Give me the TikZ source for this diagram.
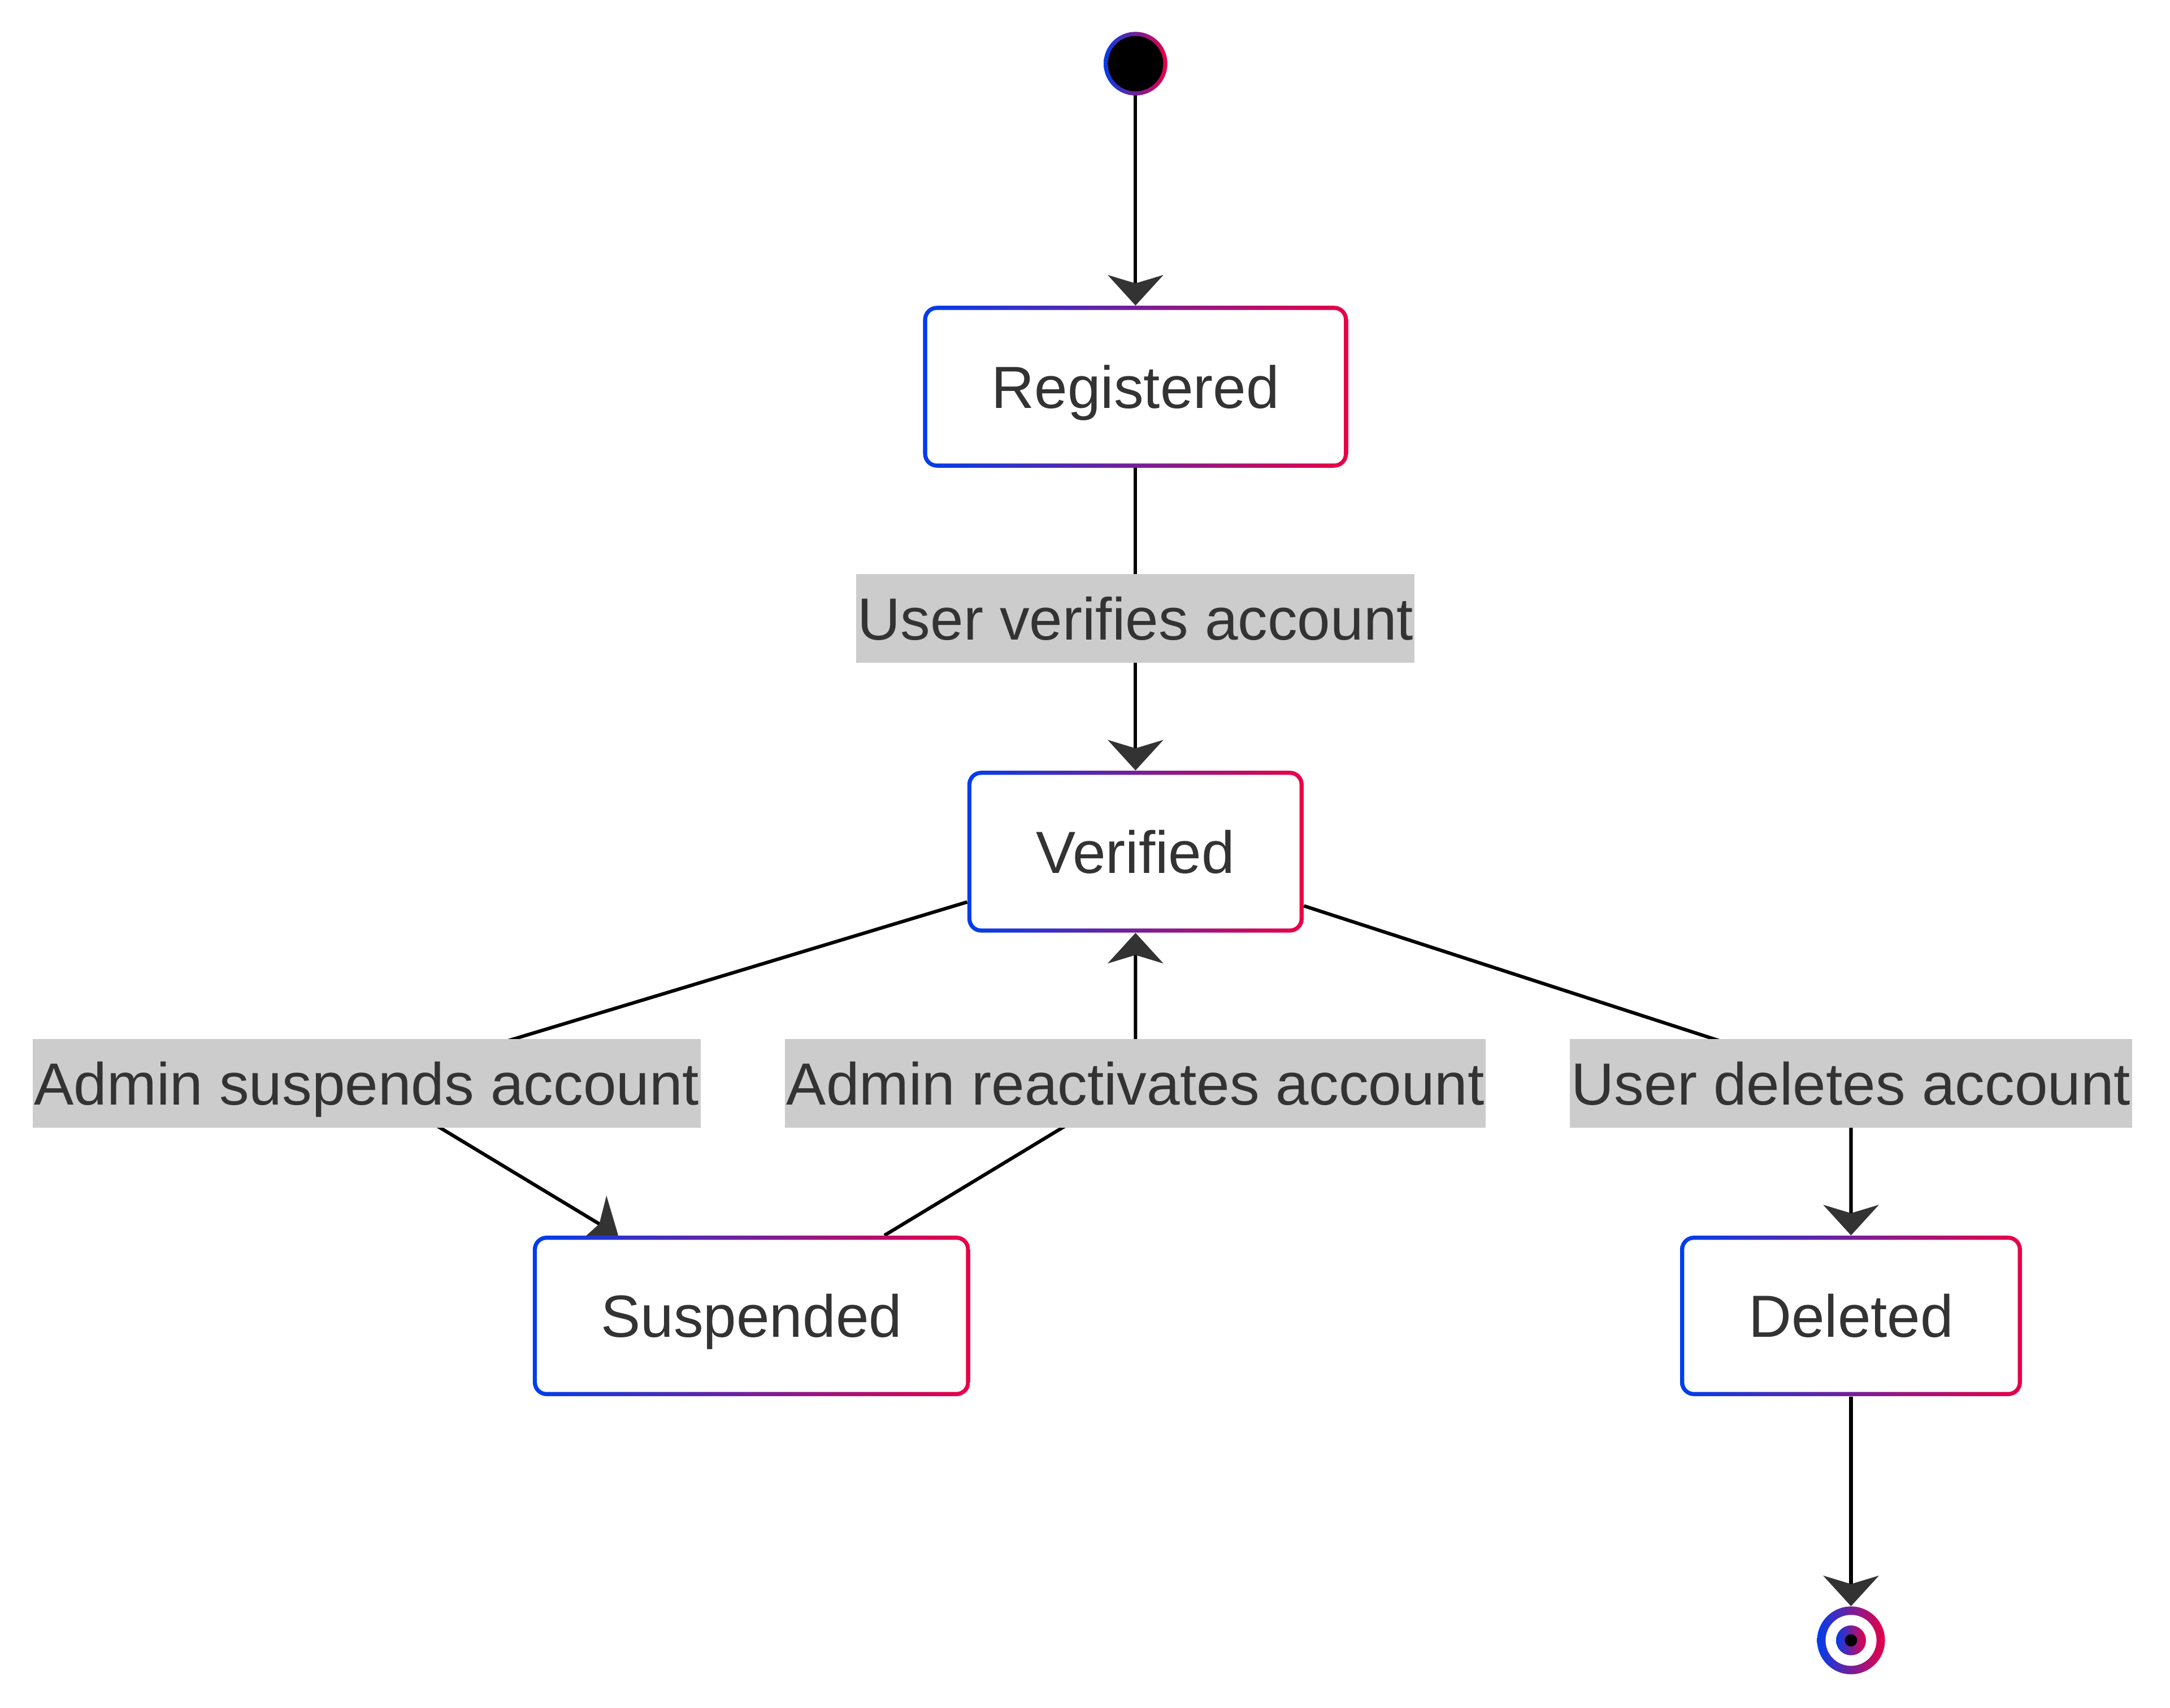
\documentclass[tikz,border=0pt]{standalone}
\usepackage{fontspec}
\setmainfont{Liberation Sans}
\usetikzlibrary{arrows.meta,calc,backgrounds}
\definecolor{gblue}{RGB}{0,62,236}
\definecolor{gred}{RGB}{234,0,70}
\definecolor{txt}{RGB}{51,51,51}
\definecolor{lblgray}{RGB}{204,204,204}
\definecolor{arrowc}{RGB}{51,51,51}
\begin{document}
\begin{tikzpicture}[x=1pt,y=-1pt,
  statebox/.style={rectangle, rounded corners=10pt, left color=gblue, right color=gred,
    minimum height=117pt, inner sep=0pt, text height=31pt, text depth=0pt,
    font=\fontsize{43}{43}\selectfont, text=txt,
    path picture={\fill[white, rounded corners=7pt]
      ($(path picture bounding box.south west)+(3pt,3pt)$) rectangle
      ($(path picture bounding box.north east)+(-3pt,-3pt)$);}},
  lbl/.style={rectangle, fill=lblgray, inner xsep=1pt, inner ysep=0pt,
    minimum height=64pt, text height=31pt, text depth=0pt,
    font=\fontsize{43}{43}\selectfont, text=txt},
  startst/.style={circle, minimum size=46pt, inner sep=0pt, left color=gblue, right color=gred,
    path picture={\fill[black] (path picture bounding box.center) circle (20pt);}},
  endst/.style={circle, minimum size=49pt, inner sep=0pt, left color=gblue, right color=gred,
    path picture={\fill[white] (path picture bounding box.center) circle (18.4pt);
      \shade[left color=gblue, right color=gred] (path picture bounding box.center) circle (10.8pt);
      \fill[black] (path picture bounding box.center) circle (4.4pt);}},
  edge/.style={draw=black, line width=2.5pt,
    -{Stealth[length=22pt, width=40pt, inset=6pt, color=arrowc]}},
  plain/.style={draw=black, line width=2.5pt}
]
\useasboundingbox (0,0) rectangle (1568,1234);

\node[startst] (start) at (820.5,46) {};
\node[statebox, minimum width=307pt] (reg) at (820.5,279.5) {Registered};
\node[lbl] (l1) at (820.5,447) {User verifies account};
\node[statebox, minimum width=243pt] (ver) at (820.5,615.5) {Verified};
\node[lbl] (l2) at (265,783) {Admin suspends account};
\node[lbl] (l3) at (820.5,783) {Admin reactivates account};
\node[lbl] (l4) at (1337.5,783) {User deletes account};
\node[statebox, minimum width=316pt, minimum height=116pt] (susp) at (543,951) {Suspended};
\node[statebox, minimum width=247pt, minimum height=116pt] (del) at (1337.5,951) {Deleted};
\node[endst] (fin) at (1337.5,1185.5) {};

\begin{pgfonlayer}{background}
\draw[edge] (start) -- (reg);
\draw[edge] (reg) -- (l1.center) -- (ver);
\draw[edge] (ver) -- (l2.center) -- (susp);
\draw[edge] (susp) -- (l3.center) -- (ver);
\draw[edge] (ver) -- (l4.center) -- (del);
\draw[edge] (del) -- (fin);
\end{pgfonlayer}
\end{tikzpicture}
\end{document}
